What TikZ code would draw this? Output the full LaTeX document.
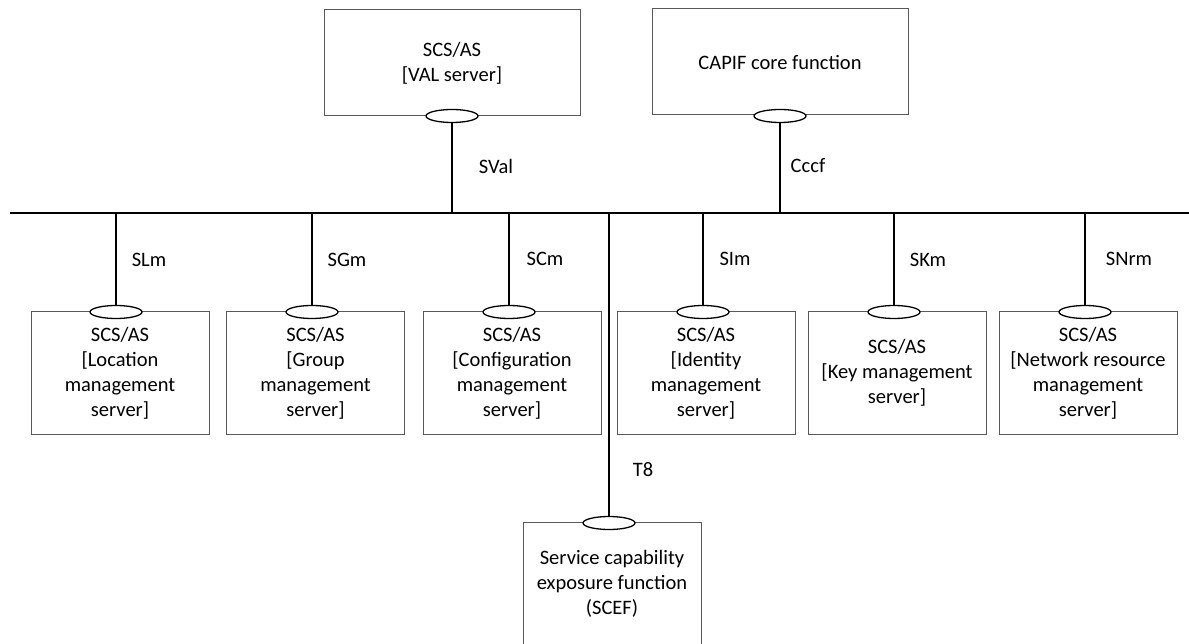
\documentclass[tikz,border=0pt]{standalone}
\usepackage{fontspec}
\setmainfont{Carlito}
\usetikzlibrary{shapes.geometric}
\begin{document}
\begin{tikzpicture}[x=1pt,y=-1pt,
  box/.style={draw=black!65, line width=1pt, inner sep=0pt, align=center,
    minimum width=178pt, minimum height=123pt, font=\fontsize{20.5}{25}\selectfont},
  topbox/.style={box, minimum width=256pt, minimum height=106pt},
  port/.style={draw, ellipse, line width=1.3pt, fill=white, minimum width=52pt,
    minimum height=13pt, inner sep=0pt},
  link/.style={line width=1.7pt},
  lbl/.style={font=\fontsize{20.5}{25}\selectfont, inner sep=0pt}]
\useasboundingbox (0,0) rectangle (1189,644);
% bus
\coordinate (busL) at (10,213);
\coordinate (busR) at (1189,213);
% boxes
\node[topbox] (val) at (452,63) {SCS/AS\\{[}VAL server]};
\node[topbox] (capif) at (780,62) {CAPIF core function};
\node[box] (loc) at (120,373) {SCS/AS\\{[}Location\\management\\server]};
\node[box] (grp) at (315.5,373) {SCS/AS\\{[}Group\\management\\server]};
\node[box] (cfg) at (512,373) {SCS/AS\\{[}Configuration\\management\\server]};
\node[box] (idm) at (706,373) {SCS/AS\\{[}Identity\\management\\server]};
\node[box] (key) at (897,373) {SCS/AS\\{[}Key management\\server]};
\node[box] (nrm) at (1088,373) {SCS/AS\\{[}Network resource\\management\\server]};
\node[box] (scef) at (612,584) {Service capability\\exposure function\\(SCEF)};
% ports
\node[port] (pval) at (452,116) {};
\node[port] (pcapif) at (780,116) {};
\node[port] (ploc) at (116,312) {};
\node[port] (pgrp) at (312,312) {};
\node[port] (pcfg) at (509,312) {};
\node[port] (pidm) at (703,312) {};
\node[port] (pkey) at (894,312) {};
\node[port] (pnrm) at (1085,312) {};
\node[port] (pscef) at (609,523) {};
% connectors
\draw[link] (busL) -- (busR);
\foreach \p in {pval,pcapif}
  \draw[link] (\p.south) -- (\p.south |- busL);
\foreach \p in {ploc,pgrp,pcfg,pidm,pkey,pnrm,pscef}
  \draw[link] (\p.north) -- (\p.north |- busL);
% labels
\node[lbl] (lsval) at (496,166) {SVal};
\node[lbl] (lcccf) at (808,166) {Cccf};
\node[lbl] (lslm) at (149,260) {SLm};
\node[lbl] (lsgm) at (347,260) {SGm};
\node[lbl] (lscm) at (545,259) {SCm};
\node[lbl] (lsim) at (735,259) {SIm};
\node[lbl] (lskm) at (928,260) {SKm};
\node[lbl] (lsnrm) at (1129,259) {SNrm};
\node[lbl] (lt8) at (643,470) {T8};
\end{tikzpicture}
\end{document}
